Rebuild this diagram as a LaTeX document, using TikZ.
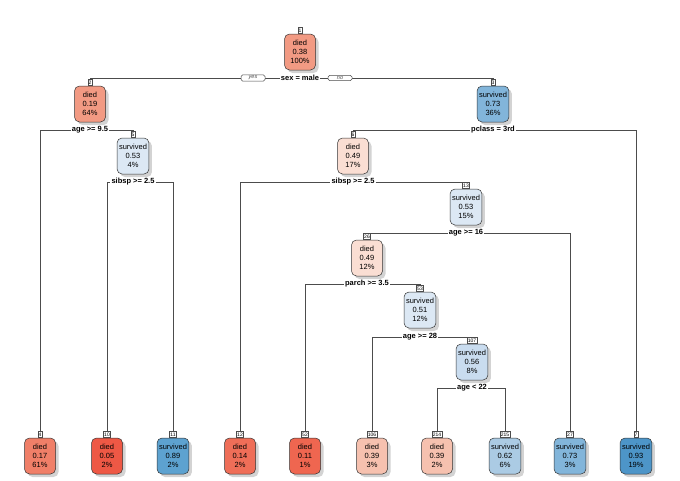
\documentclass[tikz,border=0pt]{standalone}
\usepackage{fontspec}
\setmainfont{Liberation Sans}
\usetikzlibrary{positioning,shadows,backgrounds}

\definecolor{cA}{HTML}{F29A83}
\definecolor{cB}{HTML}{F07F68}
\definecolor{cC}{HTML}{EE5845}
\definecolor{cD}{HTML}{EF6E58}
\definecolor{cE}{HTML}{EF6650}
\definecolor{cF}{HTML}{F6C1AF}
\definecolor{cG}{HTML}{FADED3}
\definecolor{cH}{HTML}{DCE8F4}
\definecolor{cI}{HTML}{C9DCEF}
\definecolor{cJ}{HTML}{ABCBE4}
\definecolor{cK}{HTML}{82B5DA}
\definecolor{cL}{HTML}{5DA2D0}
\definecolor{cM}{HTML}{4D95C8}

\tikzset{every picture/.style={line width=0.5pt}}
\tikzset{
  tnode/.style={draw=black!80, rounded corners=5pt, align=center, minimum width=31pt,
    minimum height=36pt, inner sep=2pt, font=\fontsize{7.5}{9.2}\selectfont,
    drop shadow={shadow xshift=3pt, shadow yshift=-3pt, opacity=0.35}},
  numbox/.style={draw=black!70, fill=white, inner sep=0.8pt, minimum height=6pt,
    font=\fontsize{5}{5}\selectfont},
  splitlab/.style={fill=white, inner sep=1pt, font=\bfseries\fontsize{7.5}{8}\selectfont},
  yesno/.style={draw=black!70, fill=white, rounded corners=1.5pt, inner sep=1pt,
    minimum width=24pt, font=\itshape\fontsize{5.5}{6}\selectfont, text=black!70}
}

\begin{document}
\begin{tikzpicture}[x=1pt,y=-1pt]
\useasboundingbox (0,0) rectangle (680,480);

% inner nodes
\node[tnode, fill=cA] (n1) at (300,52) {died\\0.38\\100\%};
\node[tnode, fill=cA] (n2) at (90,104) {died\\0.19\\64\%};
\node[tnode, fill=cK] (n3) at (493,104) {survived\\0.73\\36\%};
\node[tnode, fill=cH] (n5) at (133,156) {survived\\0.53\\4\%};
\node[tnode, fill=cG] (n6) at (353,156) {died\\0.49\\17\%};
\node[tnode, fill=cH] (n13) at (466,207) {survived\\0.53\\15\%};
\node[tnode, fill=cG] (n26) at (367,258) {died\\0.49\\12\%};
\node[tnode, fill=cH] (n53) at (420,310) {survived\\0.51\\12\%};
\node[tnode, fill=cI] (n107) at (472,362) {survived\\0.56\\8\%};

% leaves
\node[tnode, fill=cB] (n4) at (40,456) {died\\0.17\\61\%};
\node[tnode, fill=cC] (n10) at (107,456) {died\\0.05\\2\%};
\node[tnode, fill=cL] (n11) at (173,456) {survived\\0.89\\2\%};
\node[tnode, fill=cD] (n12) at (240,456) {died\\0.14\\2\%};
\node[tnode, fill=cE] (n52) at (305,456) {died\\0.11\\1\%};
\node[tnode, fill=cF] (n106) at (372,456) {died\\0.39\\3\%};
\node[tnode, fill=cF] (n214) at (437,456) {died\\0.39\\2\%};
\node[tnode, fill=cJ] (n215) at (505,456) {survived\\0.62\\6\%};
\node[tnode, fill=cK] (n27) at (570,456) {survived\\0.73\\3\%};
\node[tnode, fill=cM] (n7) at (636,456) {survived\\0.93\\19\%};

% node numbers
\foreach \k in {1,2,3,4,5,6,7,10,11,12,13,26,27,52,53,106,107,214,215}
  \node[numbox, above=0pt of n\k] (k\k) {\k};

% splits
\node[splitlab] (s1) at (300,78) {sex = male};
\node[splitlab] (s2) at (90,130) {age >= 9.5};
\node[splitlab] (s3) at (493,130) {pclass = 3rd};
\node[splitlab] (s5) at (133,182) {sibsp >= 2.5};
\node[splitlab] (s6) at (353,182) {sibsp >= 2.5};
\node[splitlab] (s13) at (466,233) {age >= 16};
\node[splitlab] (s26) at (367,284) {parch >= 3.5};
\node[splitlab] (s53) at (420,337) {age >= 28};
\node[splitlab] (s107) at (472,388) {age < 22};
\node[yesno] (yes) at (253,78) {yes};
\node[yesno] (no) at (340,78) {no};

\begin{pgfonlayer}{background}
\draw[black!70] (k2) |- (s1) -| (k3);
\draw[black!70] (k4) |- (s2) -| (k5);
\draw[black!70] (k6) |- (s3) -| (k7);
\draw[black!70] (k10) |- (s5) -| (k11);
\draw[black!70] (k12) |- (s6) -| (k13);
\draw[black!70] (k26) |- (s13) -| (k27);
\draw[black!70] (k52) |- (s26) -| (k53);
\draw[black!70] (k106) |- (s53) -| (k107);
\draw[black!70] (k214) |- (s107) -| (k215);
\end{pgfonlayer}

\end{tikzpicture}
\end{document}
